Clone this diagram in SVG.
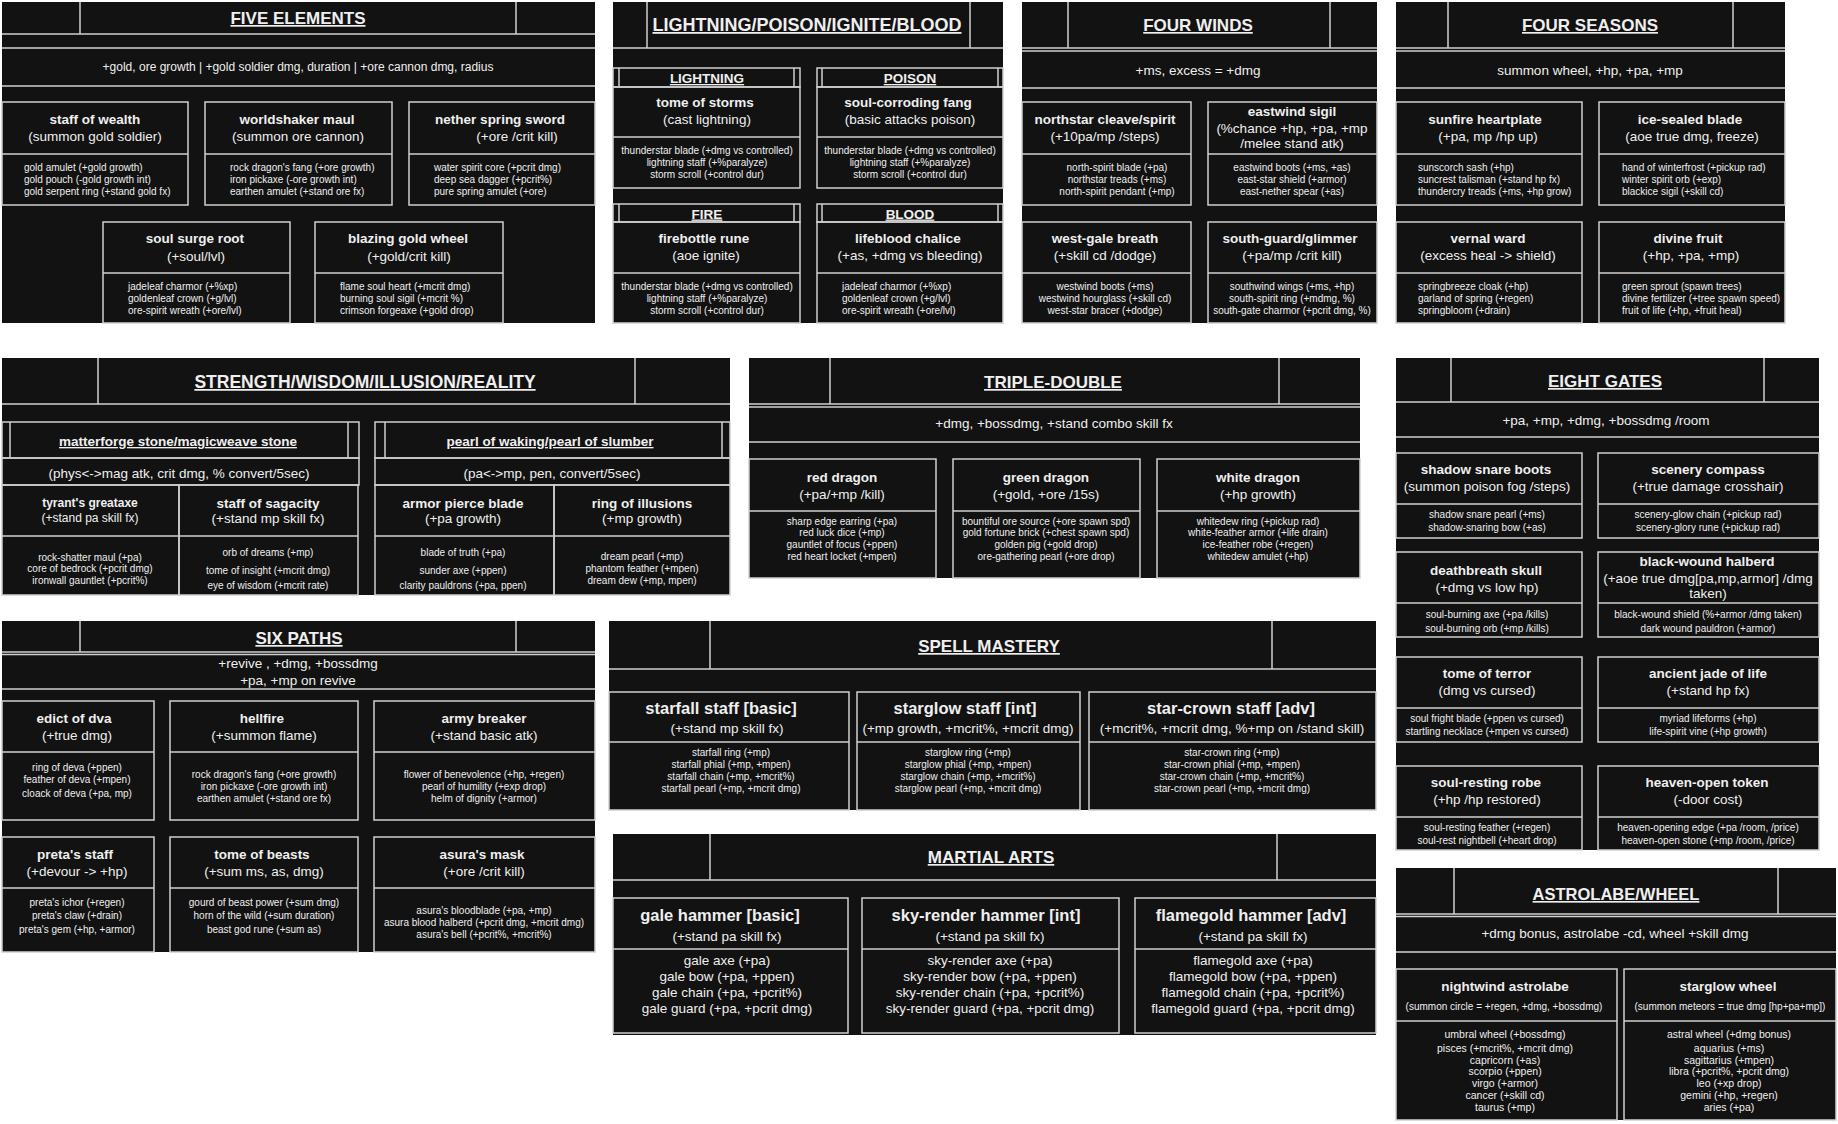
<svg xmlns="http://www.w3.org/2000/svg" width="1838" height="1124" viewBox="0 0 1838 1124">
<style>
.p{fill:#121212}
.l,.b{fill:none;stroke:#d0d0d0;stroke-width:1.5}
text{font-family:"Liberation Sans",Arial,Helvetica,sans-serif;fill:#efefef}
.h{font-size:17px;font-weight:bold;text-decoration:underline;text-anchor:middle}
.sh{font-size:13.5px;font-weight:bold;text-decoration:underline;text-anchor:middle}
.t{font-size:13.5px;font-weight:bold;text-anchor:middle}
.T{font-size:16.5px;font-weight:bold;text-anchor:middle}
.s{font-size:13.5px;text-anchor:middle}
.i{font-size:10px}
.c{text-anchor:middle}
</style>
<rect width="1838" height="1124" fill="#ffffff"/>
<g id="connectors"/>

<!-- FIVE ELEMENTS -->
<g id="five-elements">
<rect class="p" x="2" y="2" width="593" height="321"/>
<path class="l" d="M80 2V34M516 2V34M2 34H595M2 48H595M2 86H595"/>
<text class="h" x="298" y="24">FIVE ELEMENTS</text>
<text class="s" x="298" y="71" style="font-size:12px">+gold, ore growth | +gold soldier dmg, duration | +ore cannon dmg, radius</text>
</g>
<g id="staff-of-wealth">
<rect class="b" x="2" y="102" width="186" height="103"/><path class="l" d="M2 154H188"/>
<text class="t" x="95" y="123.5">staff of wealth</text><text class="s" x="95" y="141">(summon gold soldier)</text>
<text class="i" y="170.5"><tspan x="24">gold amulet (+gold growth)</tspan><tspan x="24" dy="12">gold pouch (-gold growth int)</tspan><tspan x="24" dy="12">gold serpent ring (+stand gold fx)</tspan></text>
</g>
<g id="worldshaker-maul">
<rect class="b" x="205" y="102" width="187" height="103"/><path class="l" d="M205 154H392"/>
<text class="t" x="297" y="123.5">worldshaker maul</text><text class="s" x="298" y="141">(summon ore cannon)</text>
<text class="i" y="170.5"><tspan x="230">rock dragon's fang (+ore growth)</tspan><tspan x="230" dy="12">iron pickaxe (-ore growth int)</tspan><tspan x="230" dy="12">earthen amulet (+stand ore fx)</tspan></text>
</g>
<g id="nether-spring-sword">
<rect class="b" x="409" y="102" width="186" height="103"/><path class="l" d="M409 154H595"/>
<text class="t" x="500" y="123.5">nether spring sword</text><text class="s" x="517" y="141">(+ore /crit kill)</text>
<text class="i" y="170.5"><tspan x="434">water spirit core (+pcrit dmg)</tspan><tspan x="434" dy="12">deep sea dagger (+pcrit%)</tspan><tspan x="434" dy="12">pure spring amulet (+ore)</tspan></text>
</g>
<g id="soul-surge-root">
<rect class="b" x="103" y="222" width="187" height="101"/><path class="l" d="M103 273H290"/>
<text class="t" x="195" y="242.5">soul surge root</text><text class="s" x="196" y="260.5">(+soul/lvl)</text>
<text class="i" y="289.5"><tspan x="128">jadeleaf charmor (+%xp)</tspan><tspan x="128" dy="12">goldenleaf crown (+g/lvl)</tspan><tspan x="128" dy="12">ore-spirit wreath (+ore/lvl)</tspan></text>
</g>
<g id="blazing-gold-wheel">
<rect class="b" x="315" y="222" width="188" height="101"/><path class="l" d="M315 273H503"/>
<text class="t" x="408" y="242.5">blazing gold wheel</text><text class="s" x="409" y="260.5">(+gold/crit kill)</text>
<text class="i" y="289.5"><tspan x="340">flame soul heart (+mcrit dmg)</tspan><tspan x="340" dy="12">burning soul sigil (+mcrit %)</tspan><tspan x="340" dy="12">crimson forgeaxe (+gold drop)</tspan></text>
</g>

<!-- LIGHTNING/POISON/IGNITE/BLOOD -->
<g id="lightning-poison-ignite-blood">
<rect class="p" x="613" y="2" width="390" height="321"/>
<path class="l" d="M647 2V48M970 2V48M613 48H1003"/>
<text class="h" x="807" y="31" style="font-size:18px">LIGHTNING/POISON/IGNITE/BLOOD</text>
<rect class="b" x="613" y="68" width="187" height="19"/><path class="l" d="M619 68V87M794 68V87"/>
<text class="sh" x="707" y="83">LIGHTNING</text>
<rect class="b" x="817" y="68" width="186" height="19"/><path class="l" d="M822 68V87M998 68V87"/>
<text class="sh" x="910" y="83">POISON</text>
<rect class="b" x="613" y="204" width="187" height="18"/><path class="l" d="M619 204V222M794 204V222"/>
<text class="sh" x="707" y="218.5">FIRE</text>
<rect class="b" x="817" y="204" width="186" height="18"/><path class="l" d="M822 204V222M998 204V222"/>
<text class="sh" x="910" y="218.5">BLOOD</text>
</g>
<g id="tome-of-storms">
<rect class="b" x="613" y="87" width="187" height="101"/><path class="l" d="M613 137H800"/>
<text class="t" x="705" y="106.5">tome of storms</text><text class="s" x="707" y="123.5">(cast lightning)</text>
<text class="i c" y="153.5"><tspan x="707">thunderstar blade (+dmg vs controlled)</tspan><tspan x="707" dy="12">lightning staff (+%paralyze)</tspan><tspan x="707" dy="12">storm scroll (+control dur)</tspan></text>
</g>
<g id="soul-corroding-fang">
<rect class="b" x="817" y="87" width="186" height="101"/><path class="l" d="M817 137H1003"/>
<text class="t" x="908" y="106.5">soul-corroding fang</text><text class="s" x="910" y="123.5">(basic attacks poison)</text>
<text class="i c" y="153.5"><tspan x="910">thunderstar blade (+dmg vs controlled)</tspan><tspan x="910" dy="12">lightning staff (+%paralyze)</tspan><tspan x="910" dy="12">storm scroll (+control dur)</tspan></text>
</g>
<g id="firebottle-rune">
<rect class="b" x="613" y="222" width="187" height="101"/><path class="l" d="M613 273H800"/>
<text class="t" x="704" y="242.5">firebottle rune</text><text class="s" x="706" y="259.5">(aoe ignite)</text>
<text class="i c" y="289.5"><tspan x="707">thunderstar blade (+dmg vs controlled)</tspan><tspan x="707" dy="12">lightning staff (+%paralyze)</tspan><tspan x="707" dy="12">storm scroll (+control dur)</tspan></text>
</g>
<g id="lifeblood-chalice">
<rect class="b" x="817" y="222" width="186" height="101"/><path class="l" d="M817 273H1003"/>
<text class="t" x="908" y="242.5">lifeblood chalice</text><text class="s" x="910" y="259.5">(+as, +dmg vs bleeding)</text>
<text class="i" y="289.5"><tspan x="842">jadeleaf charmor (+%xp)</tspan><tspan x="842" dy="12">goldenleaf crown (+g/lvl)</tspan><tspan x="842" dy="12">ore-spirit wreath (+ore/lvl)</tspan></text>
</g>

<!-- FOUR WINDS -->
<g id="four-winds">
<rect class="p" x="1022" y="2" width="355" height="321"/>
<path class="l" d="M1068 2V48M1330 2V48M1022 48H1377M1022 51H1377M1022 88H1377"/>
<text class="h" x="1198" y="31">FOUR WINDS</text>
<text class="s" x="1198" y="74.5">+ms, excess = +dmg</text>
</g>
<g id="northstar-cleave-spirit">
<rect class="b" x="1022" y="102" width="169" height="103"/><path class="l" d="M1022 154H1191"/>
<text class="t" x="1105" y="123.5">northstar cleave/spirit</text><text class="s" x="1105" y="140.5">(+10pa/mp /steps)</text>
<text class="i c" y="170.5"><tspan x="1117">north-spirit blade (+pa)</tspan><tspan x="1117" dy="12">northstar treads (+ms)</tspan><tspan x="1117" dy="12">north-spirit pendant (+mp)</tspan></text>
</g>
<g id="eastwind-sigil">
<rect class="b" x="1208" y="102" width="169" height="103"/><path class="l" d="M1208 154H1377"/>
<text class="t" x="1292" y="115.5">eastwind sigil</text><text class="s" x="1292" y="132.5">(%chance +hp, +pa, +mp</text><text class="s" x="1292" y="147.5">/melee stand atk)</text>
<text class="i c" y="170.5"><tspan x="1292">eastwind boots (+ms, +as)</tspan><tspan x="1292" dy="12">east-star shield (+armor)</tspan><tspan x="1292" dy="12">east-nether spear (+as)</tspan></text>
</g>
<g id="west-gale-breath">
<rect class="b" x="1022" y="222" width="169" height="101"/><path class="l" d="M1022 273H1191"/>
<text class="t" x="1105" y="242.5">west-gale breath</text><text class="s" x="1105" y="259.5">(+skill cd /dodge)</text>
<text class="i c" y="289.5"><tspan x="1105">westwind boots (+ms)</tspan><tspan x="1105" dy="12">westwind hourglass (+skill cd)</tspan><tspan x="1105" dy="12">west-star bracer (+dodge)</tspan></text>
</g>
<g id="south-guard-glimmer">
<rect class="b" x="1208" y="222" width="169" height="101"/><path class="l" d="M1208 273H1377"/>
<text class="t" x="1290" y="242.5">south-guard/glimmer</text><text class="s" x="1292" y="259.5">(+pa/mp /crit kill)</text>
<text class="i c" y="289.5"><tspan x="1292">southwind wings (+ms, +hp)</tspan><tspan x="1292" dy="12">south-spirit ring (+mdmg, %)</tspan><tspan x="1292" dy="12">south-gate charmor (+pcrit dmg, %)</tspan></text>
</g>

<!-- FOUR SEASONS -->
<g id="four-seasons">
<rect class="p" x="1396" y="2" width="389" height="321"/>
<path class="l" d="M1448 2V48M1733 2V48M1396 48H1785M1396 51H1785M1396 88H1785"/>
<text class="h" x="1590" y="31">FOUR SEASONS</text>
<text class="s" x="1590" y="74.5">summon wheel, +hp, +pa, +mp</text>
</g>
<g id="sunfire-heartplate">
<rect class="b" x="1396" y="102" width="186" height="103"/><path class="l" d="M1396 154H1582"/>
<text class="t" x="1485" y="123.5">sunfire heartplate</text><text class="s" x="1488" y="140.5">(+pa, mp /hp up)</text>
<text class="i" y="170.5"><tspan x="1418">sunscorch sash (+hp)</tspan><tspan x="1418" dy="12">suncrest talisman (+stand hp fx)</tspan><tspan x="1418" dy="12">thundercry treads (+ms, +hp grow)</tspan></text>
</g>
<g id="ice-sealed-blade">
<rect class="b" x="1599" y="102" width="186" height="103"/><path class="l" d="M1599 154H1785"/>
<text class="t" x="1690" y="123.5">ice-sealed blade</text><text class="s" x="1692" y="140.5">(aoe true dmg, freeze)</text>
<text class="i" y="170.5"><tspan x="1622">hand of winterfrost (+pickup rad)</tspan><tspan x="1622" dy="12">winter spirit orb (+exp)</tspan><tspan x="1622" dy="12">blackice sigil (+skill cd)</tspan></text>
</g>
<g id="vernal-ward">
<rect class="b" x="1396" y="222" width="186" height="101"/><path class="l" d="M1396 273H1582"/>
<text class="t" x="1488" y="242.5">vernal ward</text><text class="s" x="1488" y="259.5">(excess heal -&gt; shield)</text>
<text class="i" y="289.5"><tspan x="1418">springbreeze cloak (+hp)</tspan><tspan x="1418" dy="12">garland of spring (+regen)</tspan><tspan x="1418" dy="12">springbloom (+drain)</tspan></text>
</g>
<g id="divine-fruit">
<rect class="b" x="1599" y="222" width="186" height="101"/><path class="l" d="M1599 273H1785"/>
<text class="t" x="1688" y="242.5">divine fruit</text><text class="s" x="1691" y="259.5">(+hp, +pa, +mp)</text>
<text class="i" y="289.5"><tspan x="1622">green sprout (spawn trees)</tspan><tspan x="1622" dy="12">divine fertilizer (+tree spawn speed)</tspan><tspan x="1622" dy="12">fruit of life (+hp, +fruit heal)</tspan></text>
</g>

<!-- STRENGTH/WISDOM/ILLUSION/REALITY -->
<g id="strength-wisdom-illusion-reality">
<rect class="p" x="2" y="358" width="728" height="237"/>
<path class="l" d="M98 358V404M635 358V404M2 404H730"/>
<text class="h" x="365" y="388" style="font-size:17.5px">STRENGTH/WISDOM/ILLUSION/REALITY</text>
<rect class="b" x="2" y="422" width="357" height="36"/><path class="l" d="M10 422V458M348 422V458"/>
<text class="sh" x="178" y="446">matterforge stone/magicweave stone</text>
<rect class="b" x="2" y="458" width="357" height="27"/>
<text class="s" x="179" y="477.5">(phys&lt;-&gt;mag atk, crit dmg, % convert/5sec)</text>
<rect class="b" x="375" y="422" width="355" height="36"/><path class="l" d="M385 422V458M722 422V458"/>
<text class="sh" x="550" y="446">pearl of waking/pearl of slumber</text>
<rect class="b" x="375" y="458" width="355" height="27"/>
<text class="s" x="552" y="477.5">(pa&lt;-&gt;mp, pen, convert/5sec)</text>
</g>
<g id="tyrants-greataxe">
<rect class="b" x="2" y="485" width="177" height="110"/><path class="l" d="M2 536H179"/>
<text class="t" x="90" y="506.5" style="font-size:12px">tyrant's greataxe</text><text class="s" x="90" y="522" style="font-size:12px">(+stand pa skill fx)</text>
<text class="i c" y="560.5"><tspan x="90">rock-shatter maul (+pa)</tspan><tspan x="90" dy="11.5">core of bedrock (+pcrit dmg)</tspan><tspan x="90" dy="11.5">ironwall gauntlet (+pcrit%)</tspan></text>
</g>
<g id="staff-of-sagacity">
<rect class="b" x="179" y="485" width="179" height="110"/><path class="l" d="M179 536H358"/>
<text class="t" x="268" y="507.5">staff of sagacity</text><text class="s" x="268" y="522.5">(+stand mp skill fx)</text>
<text class="i c" x="268" y="555.5">orb of dreams (+mp)</text>
<text class="i c" x="268" y="573.5">tome of insight (+mcrit dmg)</text>
<text class="i c" x="268" y="588.5">eye of wisdom (+mcrit rate)</text>
</g>
<g id="armor-pierce-blade">
<rect class="b" x="375" y="485" width="179" height="110"/><path class="l" d="M375 536H554"/>
<text class="t" x="463" y="507.5">armor pierce blade</text><text class="s" x="463" y="522.5">(+pa growth)</text>
<text class="i c" x="463" y="555.5">blade of truth (+pa)</text>
<text class="i c" x="463" y="573.5">sunder axe (+ppen)</text>
<text class="i c" x="463" y="588.5">clarity pauldrons (+pa, ppen)</text>
</g>
<g id="ring-of-illusions">
<rect class="b" x="554" y="485" width="176" height="110"/><path class="l" d="M554 536H730"/>
<text class="t" x="642" y="507.5">ring of illusions</text><text class="s" x="642" y="522.5">(+mp growth)</text>
<text class="i c" y="559.5"><tspan x="642">dream pearl (+mp)</tspan><tspan x="642" dy="12">phantom feather (+mpen)</tspan><tspan x="642" dy="12">dream dew (+mp, mpen)</tspan></text>
</g>

<!-- TRIPLE-DOUBLE -->
<g id="triple-double">
<rect class="p" x="749" y="358" width="611" height="220"/>
<path class="l" d="M830 358V404M1279 358V404M749 404H1360M749 407H1360M749 442H1360"/>
<text class="h" x="1053" y="388">TRIPLE-DOUBLE</text>
<text class="s" x="1054" y="427.5">+dmg, +bossdmg, +stand combo skill fx</text>
</g>
<g id="red-dragon">
<rect class="b" x="749" y="459" width="187" height="119"/><path class="l" d="M749 511H936"/>
<text class="t" x="842" y="481.5">red dragon</text><text class="s" x="842" y="498.5">(+pa/+mp /kill)</text>
<text class="i c" y="524.5"><tspan x="842">sharp edge earring (+pa)</tspan><tspan x="842" dy="11.7">red luck dice (+mp)</tspan><tspan x="842" dy="11.7">gauntlet of focus (+ppen)</tspan><tspan x="842" dy="11.7">red heart locket (+mpen)</tspan></text>
</g>
<g id="green-dragon">
<rect class="b" x="953" y="459" width="187" height="119"/><path class="l" d="M953 511H1140"/>
<text class="t" x="1046" y="481.5">green dragon</text><text class="s" x="1046" y="498.5">(+gold, +ore /15s)</text>
<text class="i c" y="524.5"><tspan x="1046">bountiful ore source (+ore spawn spd)</tspan><tspan x="1046" dy="11.7">gold fortune brick (+chest spawn spd)</tspan><tspan x="1046" dy="11.7">golden pig (+gold drop)</tspan><tspan x="1046" dy="11.7">ore-gathering pearl (+ore drop)</tspan></text>
</g>
<g id="white-dragon">
<rect class="b" x="1157" y="459" width="203" height="119"/><path class="l" d="M1157 511H1360"/>
<text class="t" x="1258" y="481.5">white dragon</text><text class="s" x="1258" y="498.5">(+hp growth)</text>
<text class="i c" y="524.5"><tspan x="1258">whitedew ring (+pickup rad)</tspan><tspan x="1258" dy="11.7">white-feather armor (+life drain)</tspan><tspan x="1258" dy="11.7">ice-feather robe (+regen)</tspan><tspan x="1258" dy="11.7">whitedew amulet (+hp)</tspan></text>
</g>

<!-- EIGHT GATES -->
<g id="eight-gates">
<rect class="p" x="1396" y="358" width="423" height="492"/>
<path class="l" d="M1451 358V402M1764 358V402M1396 402H1819M1396 437H1819"/>
<text class="h" x="1605" y="387">EIGHT GATES</text>
<text class="s" x="1606" y="424.5">+pa, +mp, +dmg, +bossdmg /room</text>
</g>
<g id="shadow-snare-boots">
<rect class="b" x="1396" y="453" width="186" height="85"/><path class="l" d="M1396 504H1582"/>
<text class="t" x="1486" y="473.5">shadow snare boots</text><text class="s" x="1487" y="490.5">(summon poison fog /steps)</text>
<text class="i c" y="517.5"><tspan x="1487">shadow snare pearl (+ms)</tspan><tspan x="1487" dy="13">shadow-snaring bow (+as)</tspan></text>
</g>
<g id="scenery-compass">
<rect class="b" x="1598" y="453" width="221" height="85"/><path class="l" d="M1598 504H1819"/>
<text class="t" x="1708" y="473.5">scenery compass</text><text class="s" x="1708" y="490.5">(+true damage crosshair)</text>
<text class="i c" y="517.5"><tspan x="1708">scenery-glow chain (+pickup rad)</tspan><tspan x="1708" dy="13">scenery-glory rune (+pickup rad)</tspan></text>
</g>
<g id="deathbreath-skull">
<rect class="b" x="1396" y="552" width="186" height="85"/><path class="l" d="M1396 603H1582"/>
<text class="t" x="1486" y="574.5">deathbreath skull</text><text class="s" x="1487" y="591.5">(+dmg vs low hp)</text>
<text class="i c" y="617.5"><tspan x="1487">soul-burning axe (+pa /kills)</tspan><tspan x="1487" dy="14">soul-burning orb (+mp /kills)</tspan></text>
</g>
<g id="black-wound-halberd">
<rect class="b" x="1598" y="552" width="221" height="85"/><path class="l" d="M1598 603H1819"/>
<text class="t" x="1707" y="565.5">black-wound halberd</text><text class="s" x="1708" y="582.5">(+aoe true dmg[pa,mp,armor] /dmg</text><text class="s" x="1708" y="597.5">taken)</text>
<text class="i c" y="617.5"><tspan x="1708">black-wound shield (%+armor /dmg taken)</tspan><tspan x="1708" dy="14">dark wound pauldron (+armor)</tspan></text>
</g>
<g id="tome-of-terror">
<rect class="b" x="1396" y="657" width="186" height="85"/><path class="l" d="M1396 708H1582"/>
<text class="t" x="1487" y="677.5">tome of terror</text><text class="s" x="1487" y="694.5">(dmg vs cursed)</text>
<text class="i c" y="721.5"><tspan x="1487">soul fright blade (+ppen vs cursed)</tspan><tspan x="1487" dy="13">startling necklace (+mpen vs cursed)</tspan></text>
</g>
<g id="ancient-jade-of-life">
<rect class="b" x="1598" y="657" width="221" height="85"/><path class="l" d="M1598 708H1819"/>
<text class="t" x="1708" y="677.5">ancient jade of life</text><text class="s" x="1708" y="694.5">(+stand hp fx)</text>
<text class="i c" y="721.5"><tspan x="1708">myriad lifeforms (+hp)</tspan><tspan x="1708" dy="13">life-spirit vine (+hp growth)</tspan></text>
</g>
<g id="soul-resting-robe">
<rect class="b" x="1396" y="766" width="186" height="84"/><path class="l" d="M1396 817H1582"/>
<text class="t" x="1486" y="786.5">soul-resting robe</text><text class="s" x="1487" y="803.5">(+hp /hp restored)</text>
<text class="i c" y="830.5"><tspan x="1487">soul-resting feather (+regen)</tspan><tspan x="1487" dy="13">soul-rest nightbell (+heart drop)</tspan></text>
</g>
<g id="heaven-open-token">
<rect class="b" x="1598" y="766" width="221" height="84"/><path class="l" d="M1598 817H1819"/>
<text class="t" x="1707" y="786.5">heaven-open token</text><text class="s" x="1708" y="803.5">(-door cost)</text>
<text class="i c" y="830.5"><tspan x="1708">heaven-opening edge (+pa /room, /price)</tspan><tspan x="1708" dy="13">heaven-open stone (+mp /room, /price)</tspan></text>
</g>

<!-- SIX PATHS -->
<g id="six-paths">
<rect class="p" x="2" y="621" width="593" height="331"/>
<path class="l" d="M80 621V652M516 621V652M2 652H595M2 654.5H595M2 689H595"/>
<text class="h" x="299" y="644">SIX PATHS</text>
<text class="s" x="298" y="667.5">+revive , +dmg, +bossdmg</text>
<text class="s" x="298" y="684.5">+pa, +mp on revive</text>
</g>
<g id="edict-of-dva">
<rect class="b" x="2" y="701" width="152" height="119"/><path class="l" d="M2 752H154"/>
<text class="t" x="74" y="722.5">edict of dva</text><text class="s" x="77" y="739.5">(+true dmg)</text>
<text class="i c" x="77" y="770.5">ring of deva (+ppen)</text>
<text class="i c" x="77" y="782.5">feather of deva (+mpen)</text>
<text class="i c" x="77" y="796.5">cloack of deva (+pa, mp)</text>
</g>
<g id="hellfire">
<rect class="b" x="170" y="701" width="188" height="119"/><path class="l" d="M170 752H358"/>
<text class="t" x="262" y="722.5">hellfire</text><text class="s" x="264" y="739.5">(+summon flame)</text>
<text class="i c" y="777.5"><tspan x="264">rock dragon's fang (+ore growth)</tspan><tspan x="264" dy="12">iron pickaxe (-ore growth int)</tspan><tspan x="264" dy="12">earthen amulet (+stand ore fx)</tspan></text>
</g>
<g id="army-breaker">
<rect class="b" x="374" y="701" width="221" height="119"/><path class="l" d="M374 752H595"/>
<text class="t" x="484" y="722.5">army breaker</text><text class="s" x="484" y="739.5">(+stand basic atk)</text>
<text class="i c" y="777.5"><tspan x="484">flower of benevolence (+hp, +regen)</tspan><tspan x="484" dy="12">pearl of humility (+exp drop)</tspan><tspan x="484" dy="12">helm of dignity (+armor)</tspan></text>
</g>
<g id="pretas-staff">
<rect class="b" x="2" y="837" width="152" height="115"/><path class="l" d="M2 888H154"/>
<text class="t" x="75" y="858.5">preta's staff</text><text class="s" x="77" y="875.5">(+devour -&gt; +hp)</text>
<text class="i c" x="77" y="905.5">preta's ichor (+regen)</text>
<text class="i c" x="77" y="918.5">preta's claw (+drain)</text>
<text class="i c" x="77" y="932.5">preta's gem (+hp, +armor)</text>
</g>
<g id="tome-of-beasts">
<rect class="b" x="170" y="837" width="188" height="115"/><path class="l" d="M170 888H358"/>
<text class="t" x="262" y="858.5">tome of beasts</text><text class="s" x="264" y="875.5">(+sum ms, as, dmg)</text>
<text class="i c" x="264" y="905.5">gourd of beast power (+sum dmg)</text>
<text class="i c" x="264" y="918.5">horn of the wild (+sum duration)</text>
<text class="i c" x="264" y="932.5">beast god rune (+sum as)</text>
</g>
<g id="asuras-mask">
<rect class="b" x="374" y="837" width="221" height="115"/><path class="l" d="M374 888H595"/>
<text class="t" x="482" y="858.5">asura's mask</text><text class="s" x="484" y="875.5">(+ore /crit kill)</text>
<text class="i c" y="913.5"><tspan x="484">asura's bloodblade (+pa, +mp)</tspan><tspan x="484" dy="12">asura blood halberd (+pcrit dmg, +mcrit dmg)</tspan><tspan x="484" dy="12">asura's bell (+pcrit%, +mcrit%)</tspan></text>
</g>

<!-- SPELL MASTERY -->
<g id="spell-mastery">
<rect class="p" x="609" y="621" width="767" height="189"/>
<path class="l" d="M710 621V669M1272 621V669M609 669H1376"/>
<text class="h" x="989" y="652">SPELL MASTERY</text>
</g>
<g id="starfall-staff">
<rect class="b" x="609" y="692" width="240" height="118"/><path class="l" d="M609 742H849"/>
<text class="T" x="721" y="714">starfall staff [basic]</text><text class="s" x="727" y="732.5">(+stand mp skill fx)</text>
<text class="i c" y="755.5"><tspan x="731">starfall ring (+mp)</tspan><tspan x="731" dy="12">starfall phial (+mp, +mpen)</tspan><tspan x="731" dy="12">starfall chain (+mp, +mcrit%)</tspan><tspan x="731" dy="12">starfall pearl (+mp, +mcrit dmg)</tspan></text>
</g>
<g id="starglow-staff">
<rect class="b" x="857" y="692" width="223" height="118"/><path class="l" d="M857 742H1080"/>
<text class="T" x="965" y="714">starglow staff [int]</text><text class="s" x="968" y="732.5">(+mp growth, +mcrit%, +mcrit dmg)</text>
<text class="i c" y="755.5"><tspan x="968">starglow ring (+mp)</tspan><tspan x="968" dy="12">starglow phial (+mp, +mpen)</tspan><tspan x="968" dy="12">starglow chain (+mp, +mcrit%)</tspan><tspan x="968" dy="12">starglow pearl (+mp, +mcrit dmg)</tspan></text>
</g>
<g id="star-crown-staff">
<rect class="b" x="1089" y="692" width="287" height="118"/><path class="l" d="M1089 742H1376"/>
<text class="T" x="1231" y="714">star-crown staff [adv]</text><text class="s" x="1232" y="732.5">(+mcrit%, +mcrit dmg, %+mp on /stand skill)</text>
<text class="i c" y="755.5"><tspan x="1232">star-crown ring (+mp)</tspan><tspan x="1232" dy="12">star-crown phial (+mp, +mpen)</tspan><tspan x="1232" dy="12">star-crown chain (+mp, +mcrit%)</tspan><tspan x="1232" dy="12">star-crown pearl (+mp, +mcrit dmg)</tspan></text>
</g>

<!-- MARTIAL ARTS -->
<g id="martial-arts">
<rect class="p" x="613" y="834" width="763" height="201"/>
<path class="l" d="M710 834V880M1277 834V880M613 880H1376"/>
<text class="h" x="991" y="863">MARTIAL ARTS</text>
</g>
<g id="gale-hammer">
<rect class="b" x="613" y="898" width="235" height="135"/><path class="l" d="M613 949H848"/>
<text class="T" x="720" y="921">gale hammer [basic]</text><text class="s" x="727" y="940.5">(+stand pa skill fx)</text>
<text class="s" y="964.5"><tspan x="727">gale axe (+pa)</tspan><tspan x="727" dy="16">gale bow (+pa, +ppen)</tspan><tspan x="727" dy="16">gale chain (+pa, +pcrit%)</tspan><tspan x="727" dy="16">gale guard (+pa, +pcrit dmg)</tspan></text>
</g>
<g id="sky-render-hammer">
<rect class="b" x="862" y="898" width="257" height="135"/><path class="l" d="M862 949H1119"/>
<text class="T" x="986" y="921">sky-render hammer [int]</text><text class="s" x="990" y="940.5">(+stand pa skill fx)</text>
<text class="s" y="964.5"><tspan x="990">sky-render axe (+pa)</tspan><tspan x="990" dy="16">sky-render bow (+pa, +ppen)</tspan><tspan x="990" dy="16">sky-render chain (+pa, +pcrit%)</tspan><tspan x="990" dy="16">sky-render guard (+pa, +pcrit dmg)</tspan></text>
</g>
<g id="flamegold-hammer">
<rect class="b" x="1135" y="898" width="241" height="135"/><path class="l" d="M1135 949H1376"/>
<text class="T" x="1251" y="921">flamegold hammer [adv]</text><text class="s" x="1253" y="940.5">(+stand pa skill fx)</text>
<text class="s" y="964.5"><tspan x="1253">flamegold axe (+pa)</tspan><tspan x="1253" dy="16">flamegold bow (+pa, +ppen)</tspan><tspan x="1253" dy="16">flamegold chain (+pa, +pcrit%)</tspan><tspan x="1253" dy="16">flamegold guard (+pa, +pcrit dmg)</tspan></text>
</g>

<!-- ASTROLABE/WHEEL -->
<g id="astrolabe-wheel">
<rect class="p" x="1396" y="868" width="440" height="252"/>
<path class="l" d="M1454 868V914M1778 868V914M1396 914H1836M1396 916.5H1836M1396 952H1836"/>
<text class="h" x="1616" y="900" style="font-size:16.5px">ASTROLABE/WHEEL</text>
<text class="s" x="1615" y="937.5">+dmg bonus, astrolabe -cd, wheel +skill dmg</text>
</g>
<g id="nightwind-astrolabe">
<rect class="b" x="1396" y="969" width="221" height="151"/><path class="l" d="M1396 1021H1617"/>
<text class="t" x="1505" y="990.5">nightwind astrolabe</text><text class="s" x="1504" y="1009.5" style="font-size:10px">(summon circle = +regen, +dmg, +bossdmg)</text>
<text class="i c" style="font-size:10.5px" y="1037.5"><tspan x="1505">umbral wheel (+bossdmg)</tspan><tspan x="1505" dy="14">pisces (+mcrit%, +mcrit dmg)</tspan><tspan x="1505" dy="12">capricorn (+as)</tspan><tspan x="1505" dy="11.5">scorpio (+ppen)</tspan><tspan x="1505" dy="11.5">virgo (+armor)</tspan><tspan x="1505" dy="12">cancer (+skill cd)</tspan><tspan x="1505" dy="12">taurus (+mp)</tspan></text>
</g>
<g id="starglow-wheel">
<rect class="b" x="1624" y="969" width="212" height="151"/><path class="l" d="M1624 1021H1836"/>
<text class="t" x="1728" y="990.5">starglow wheel</text><text class="s" x="1730" y="1009.5" style="font-size:10px">(summon meteors = true dmg [hp+pa+mp])</text>
<text class="i c" style="font-size:10.5px" y="1037.5"><tspan x="1729">astral wheel (+dmg bonus)</tspan><tspan x="1729" dy="14">aquarius (+ms)</tspan><tspan x="1729" dy="12">sagittarius (+mpen)</tspan><tspan x="1729" dy="11.5">libra (+pcrit%, +pcrit dmg)</tspan><tspan x="1729" dy="11.5">leo (+xp drop)</tspan><tspan x="1729" dy="12">gemini (+hp, +regen)</tspan><tspan x="1729" dy="12">aries (+pa)</tspan></text>
</g>
</svg>
